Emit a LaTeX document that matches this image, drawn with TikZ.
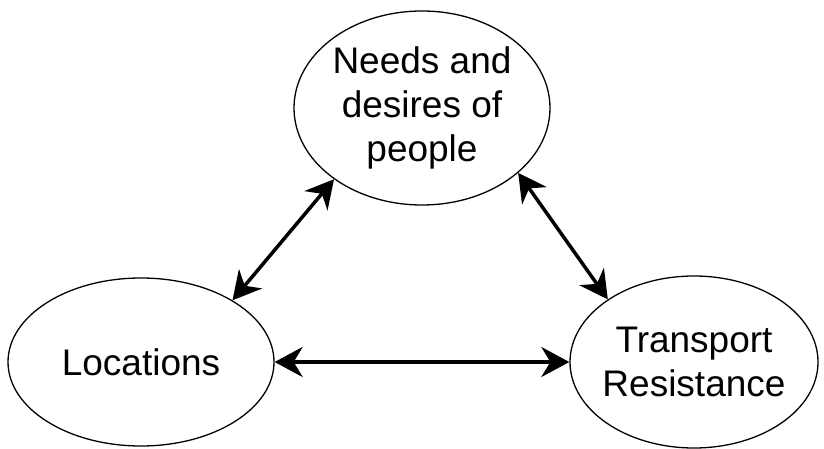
\documentclass[tikz,border=0pt]{standalone}
\usepackage{fontspec}
\setmainfont{Liberation Sans}
\usetikzlibrary{shapes.geometric,arrows.meta,positioning}

\begin{document}
\begin{tikzpicture}[x=1pt,y=-1pt]
    \tikzstyle{factor}=[ellipse,draw=black,line width=1.3pt,inner sep=0pt,align=center,
        font=\fontsize{37}{44}\selectfont]
    \tikzstyle{link}=[line width=3.5pt,{Stealth[length=28pt,width=30pt,inset=9pt]}-{Stealth[length=28pt,width=30pt,inset=9pt]}]

    \useasboundingbox (0,0) rectangle (824,449);

    % the three factors
    \node[factor, minimum width=256pt, minimum height=194pt] (needs) at (422,108)
        {Needs and\\desires of\\people};
    \node[factor, minimum width=266pt, minimum height=168pt] (loc) at (141,362) {Locations};
    \node[factor, minimum width=248pt, minimum height=172pt, inner xsep=-30pt] (trans) at (694,362)
        {Transport\\Resistance};

    % connect every pair of factors
    \draw[link] (loc.34) -- (needs.219);
    \draw[link] (needs.-34) -- (trans.144);
    \draw[link] (loc) -- (trans);
\end{tikzpicture}
\end{document}
